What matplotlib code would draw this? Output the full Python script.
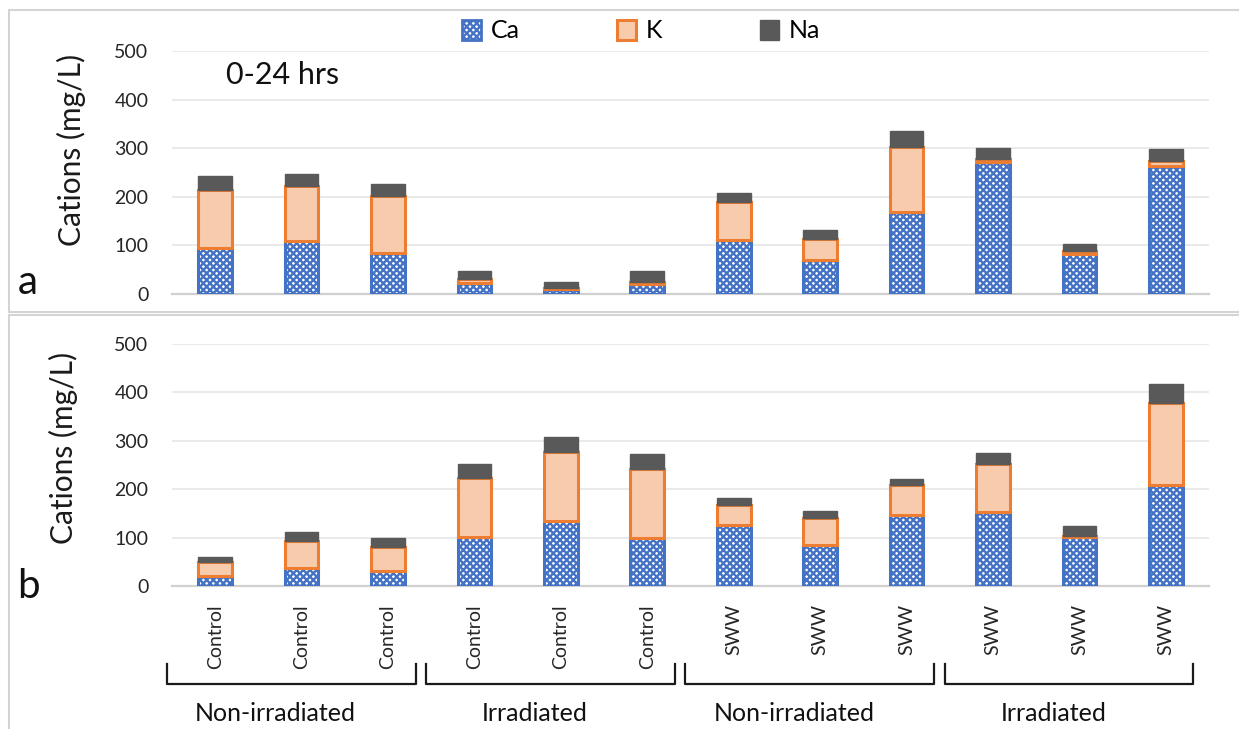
import matplotlib
matplotlib.use("Agg")
import matplotlib.pyplot as plt
import matplotlib.transforms as mtransforms
from matplotlib.patches import Rectangle, Patch
from matplotlib.lines import Line2D

plt.rcParams['font.family'] = ['Lato', 'DejaVu Sans']
plt.rcParams['hatch.linewidth'] = 1.7

categories = ['Control'] * 6 + ['SWW'] * 6
groups = ['Non-irradiated', 'Irradiated', 'Non-irradiated', 'Irradiated']
series = ['Ca', 'K', 'Na']

# panel a: 0-24 hrs
ca_a = [95, 109, 84, 23, 10, 21, 111, 69, 168, 271, 82, 263]
k_a = [120, 113, 117, 7, 2, 4, 79, 44, 135, 6, 6, 11]
na_a = [28, 25, 25, 17, 12, 22, 18, 18, 32, 24, 14, 25]

# panel b
ca_b = [21, 38, 30, 102, 134, 99, 126, 85, 147, 152, 102, 209]
k_b = [28, 56, 50, 121, 143, 143, 42, 55, 61, 100, 2, 170]
na_b = [11, 18, 19, 29, 31, 30, 14, 14, 13, 23, 21, 38]

W, H = 1239, 729
fig = plt.figure(figsize=(W / 100, H / 100), dpi=100)

def fx(px):
    return px / W

def fy(py):
    return 1 - py / H

# panel frames
fig.patches.append(Rectangle((fx(9), fy(312)), fx(1240 - 9), fy(10) - fy(312),
                             transform=fig.transFigure, fill=False,
                             edgecolor='#d4d4d4', linewidth=1.5))
fig.patches.append(Rectangle((fx(9), fy(740)), fx(1240 - 9), fy(315) - fy(740),
                             transform=fig.transFigure, fill=False,
                             edgecolor='#d4d4d4', linewidth=1.5))

ax_a = fig.add_axes([fx(172), fy(294), fx(1209 - 172), fy(51) - fy(294)])
ax_b = fig.add_axes([fx(172), fy(586), fx(1209 - 172), fy(344) - fy(586)])

CA_EDGE = '#4472C4'
K_FACE = '#F8CBAD'
K_EDGE = '#ED7D31'
NA_COL = '#595959'
bw = 0.39

def draw(ax, ca, k, na):
    x = list(range(len(ca)))
    ax.bar(x, ca, width=bw, facecolor='white', edgecolor=CA_EDGE,
           hatch='xxxxx', linewidth=2.2, zorder=3)
    bottom_k = ca
    ax.bar(x, k, width=bw, bottom=bottom_k, facecolor=K_FACE,
           edgecolor=K_EDGE, linewidth=2.2, zorder=4)
    bottom_na = [a + b for a, b in zip(ca, k)]
    ax.bar(x, na, width=bw, bottom=bottom_na, facecolor=NA_COL,
           edgecolor=NA_COL, linewidth=1.0, zorder=5)
    ax.set_xlim(-0.5, len(ca) - 0.5)
    ax.set_ylim(0, 500)
    ax.set_yticks([0, 100, 200, 300, 400, 500])
    ax.yaxis.grid(True, color='#e6e6e6', linewidth=1.2, zorder=0)
    ax.set_axisbelow(True)
    for s in ['top', 'right', 'left']:
        ax.spines[s].set_visible(False)
    ax.spines['bottom'].set_color('#d0d0d0')
    ax.spines['bottom'].set_linewidth(1.6)
    ax.spines['bottom'].set_zorder(2)
    ax.tick_params(axis='y', length=0, pad=17, labelsize=14, labelcolor='#262626')
    ax.tick_params(axis='x', length=0)

draw(ax_a, ca_a, k_a, na_a)
draw(ax_b, ca_b, k_b, na_b)

ax_a.set_xticks(range(len(categories)))
ax_a.set_xticklabels([])
ax_b.set_xticks(range(len(categories)))
ax_b.set_xticklabels(categories, rotation=90, fontsize=14, color='#262626')
ax_b.tick_params(axis='x', pad=13)

# y labels
fig.text(fx(71), fy(150), 'Cations (mg/L)', rotation=90, ha='center', va='center',
         fontsize=21.5, color='#1a1a1a')
fig.text(fx(63), fy(448), 'Cations (mg/L)', rotation=90, ha='center', va='center',
         fontsize=21.5, color='#1a1a1a')

# panel letters and annotation
fig.text(fx(28), fy(282), 'a', ha='center', va='center', fontsize=29, color='#111111')
fig.text(fx(28), fy(586), 'b', ha='center', va='center', fontsize=29, color='#111111')
fig.text(fx(226), fy(75), '0-24 hrs', ha='left', va='center', fontsize=22, color='#111111')

# group brackets
trans = mtransforms.blended_transform_factory(ax_b.transData, ax_b.transAxes)
y_top = -0.322
y_bot = -0.405
for g, name in enumerate(groups):
    x0 = g * 3 - 0.56
    x1 = g * 3 + 2.32
    ax_b.add_line(Line2D([x0, x0, x1, x1], [y_top, y_bot, y_bot, y_top],
                         transform=trans, color='#1a1a1a', linewidth=1.6,
                         clip_on=False, solid_joinstyle='round'))
    ax_b.text(g * 3 + 0.7, -0.525, name, transform=trans, ha='center', va='center',
              fontsize=18, color='#111111')

# legend
handles = [
    Patch(facecolor='white', edgecolor=CA_EDGE, hatch='xxxxx', linewidth=2.0),
    Patch(facecolor=K_FACE, edgecolor=K_EDGE, linewidth=2.2),
    Patch(facecolor=NA_COL, edgecolor=NA_COL, linewidth=1.0),
]
fig.legend(handles, series, loc='center', bbox_to_anchor=(fx(641), fy(31)),
           ncol=3, frameon=False, fontsize=18, handlelength=0.75, handleheight=0.85,
           handletextpad=0.4, columnspacing=3.9)

fig.savefig('out.png', dpi=100)
